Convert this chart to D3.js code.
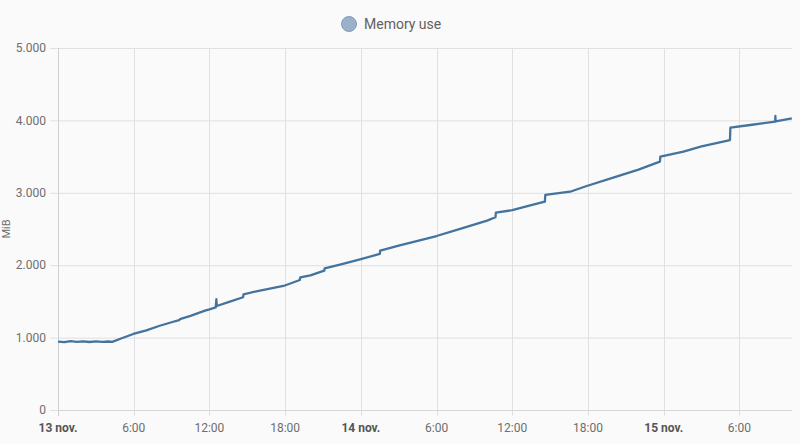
<!DOCTYPE html>
<html><head><meta charset="utf-8">
<script src="https://cdn.jsdelivr.net/npm/d3@7"></script>
<style>
html,body{margin:0;padding:0;background:#fafafa;}
svg{display:block;font-family:Roboto,"Noto Sans",sans-serif;}
</style></head>
<body><svg id="c" width="800" height="444"></svg>
<script>
const seriesName = "Memory use";
const yLabel = "MiB";
const yTicks = [0, 1000, 2000, 3000, 4000, 5000];
const xDomain = ["2023-11-13T00:00", "2023-11-15T10:10"];
const times = [
 "2023-11-13T00:00","2023-11-13T00:30","2023-11-13T01:00","2023-11-13T01:30","2023-11-13T02:00",
 "2023-11-13T02:30","2023-11-13T03:00","2023-11-13T03:30","2023-11-13T04:00","2023-11-13T04:18",
 "2023-11-13T05:00","2023-11-13T05:58","2023-11-13T07:00","2023-11-13T08:00","2023-11-13T09:00",
 "2023-11-13T09:36","2023-11-13T09:40","2023-11-13T10:30","2023-11-13T11:39","2023-11-13T12:00",
 "2023-11-13T12:30","2023-11-13T12:33","2023-11-13T12:35","2023-11-13T13:30","2023-11-13T14:40",
 "2023-11-13T14:42","2023-11-13T16:00","2023-11-13T17:52","2023-11-13T19:10","2023-11-13T19:12",
 "2023-11-13T20:00","2023-11-13T21:06","2023-11-13T21:08","2023-11-13T22:30","2023-11-13T23:56",
 "2023-11-14T01:30","2023-11-14T01:32","2023-11-14T03:00","2023-11-14T04:30","2023-11-14T06:00",
 "2023-11-14T08:00","2023-11-14T10:00","2023-11-14T10:40","2023-11-14T10:42","2023-11-14T12:00",
 "2023-11-14T13:30","2023-11-14T14:35","2023-11-14T14:37","2023-11-14T16:35","2023-11-14T17:54",
 "2023-11-14T20:00","2023-11-14T22:00","2023-11-14T23:42","2023-11-14T23:44","2023-11-15T01:34",
 "2023-11-15T03:00","2023-11-15T05:15","2023-11-15T05:17","2023-11-15T07:00","2023-11-15T08:50",
 "2023-11-15T08:51","2023-11-15T08:52","2023-11-15T10:09"
];
const memory = [
 945,938,951,941,948,
 939,947,940,946,942,
 987,1050,1100,1160,1212,
 1240,1255,1300,1372,1390,
 1418,1530,1436,1490,1557,
 1598,1650,1713,1795,1833,
 1860,1924,1957,2015,2081,
 2155,2200,2270,2335,2403,
 2510,2615,2662,2725,2760,
 2831,2877,2970,3015,3094,
 3210,3320,3430,3499,3568,
 3640,3729,3899,3940,3982,
 4061,3985,4029
];

const parse = d3.timeParse("%Y-%m-%dT%H:%M");
const data = times.map((t,i)=>({t:parse(t), v:memory[i]}));
const svg = d3.select("#c");
const m = {l:58, r:792, t:48, b:410};
const x = d3.scaleTime().domain(xDomain.map(parse)).range([m.l, m.r]);
const y = d3.scaleLinear().domain([0,5000]).range([m.b, m.t]);
const loc = d3.formatLocale({decimal:",", thousands:".", grouping:[3], currency:["","€"]});
const fmt = loc.format(",");
const color = "#44739e";

// horizontal grid
svg.append("g").selectAll("line").data(yTicks).join("line")
  .attr("x1", m.l-8).attr("x2", m.r).attr("y1", d=>y(d)+0.5).attr("y2", d=>y(d)+0.5)
  .attr("stroke", "#e0e0e0").attr("stroke-width", 1);
// vertical grid
const xt = x.ticks(d3.timeHour.every(6));
svg.append("g").selectAll("line").data(xt).join("line")
  .attr("x1", d=>Math.round(x(d))+0.5).attr("x2", d=>Math.round(x(d))+0.5)
  .attr("y1", m.t).attr("y2", m.b+6)
  .attr("stroke", d=>+x(d)===m.l ? "#cfcfcf" : "#e0e0e0").attr("stroke-width", 1);
// bottom axis line
svg.append("line").attr("x1", m.l).attr("x2", m.r).attr("y1", m.b+0.5).attr("y2", m.b+0.5)
  .attr("stroke", "#d6d6d6");

// y labels
svg.append("g").selectAll("text").data(yTicks).join("text")
  .attr("x", 46).attr("y", d=>y(d)).attr("dy", "0.35em").attr("text-anchor", "end")
  .attr("fill", "#6e6e6e").attr("font-size", 12).text(d=>fmt(d));
// x labels
svg.append("g").selectAll("text").data(xt).join("text")
  .attr("x", d=>x(d)).attr("y", 432).attr("text-anchor", "middle")
  .attr("font-size", 12)
  .attr("font-weight", d=>d.getHours()===0 ? "bold" : "normal")
  .attr("fill", d=>d.getHours()===0 ? "#555" : "#6e6e6e")
  .text(d=>d.getHours()===0 ? d3.timeFormat("%-d")(d)+" nov." : d3.timeFormat("%-H:%M")(d));

// y title
svg.append("text").attr("transform", "translate(10,229) rotate(-90)")
  .attr("text-anchor", "middle").attr("fill", "#6e6e6e").attr("font-size", 11).text(yLabel);

// line
svg.append("path").datum(data)
  .attr("d", d3.line().x(d=>x(d.t)).y(d=>y(d.v)).curve(d3.curveLinear))
  .attr("fill", "none").attr("stroke", color).attr("stroke-width", 2.3).attr("stroke-linejoin", "round");

// legend
svg.append("circle").attr("cx", 349).attr("cy", 24).attr("r", 7.5)
  .attr("fill", "#9ab1c9").attr("stroke", "#7f9cba").attr("stroke-width", 1);
svg.append("text").attr("x", 364).attr("y", 24).attr("dy", "0.35em")
  .attr("fill", "#616161").attr("font-size", 14).text(seriesName);
</script></body></html>
